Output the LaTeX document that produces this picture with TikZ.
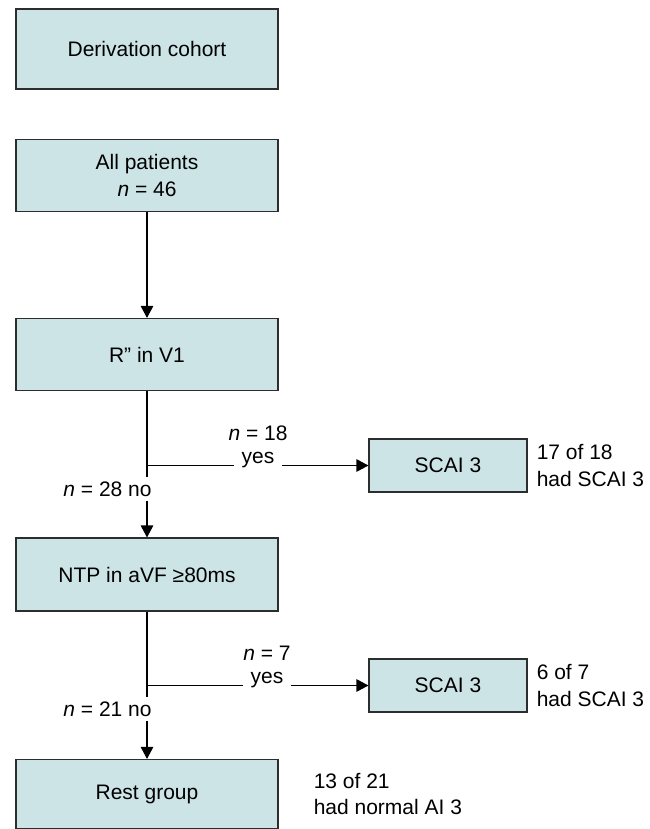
\documentclass[tikz,border=0pt]{standalone}
\usepackage{fontspec}
\setmainfont{Liberation Sans}
\usepackage{tikz}
\usetikzlibrary{arrows.meta}
\definecolor{boxfill}{RGB}{205,228,231}
\definecolor{boxline}{RGB}{45,45,45}
\tikzstyle{stage} = [rectangle, minimum width=262pt, minimum height=72pt, text centered, align=center, draw=boxline, line width=1.1pt, fill=boxfill]
\tikzstyle{outcome} = [rectangle, minimum width=158pt, minimum height=53pt, text centered, draw=boxline, line width=1.1pt, fill=boxfill]
\tikzstyle{note} = [anchor=west, align=left, inner sep=0pt]
\tikzstyle{branch} = [fill=white, inner xsep=8pt, inner ysep=3pt]
\tikzstyle{nolabel} = [fill=white, inner xsep=1pt, inner ysep=5pt]
\tikzstyle{arrow} = [line width=1.1pt, -{Triangle[length=12pt, width=12.5pt]}]

\begin{document}
\begin{tikzpicture}[x=1pt, y=-1pt, every node/.style={font=\fontsize{21}{26.5}\selectfont}]
	\useasboundingbox (0,0) rectangle (649,829);

	\node[stage, minimum height=80pt](cohort) at (147,49){Derivation cohort};
	\node[stage](all) at (147,175.5){All patients\\\textit{n} = 46};
	\node[stage](rv1) at (147,354.5){R” in V1};
	\node[stage, minimum height=73pt](ntp) at (147,574.5){NTP in aVF ≥80ms};
	\node[stage, minimum height=69pt](rest) at (147,794){Rest group};
	\node[outcome](scai1) at (448,465.5){SCAI 3};
	\node[outcome](scai2) at (448,685.5){SCAI 3};

	\coordinate (fork1) at (rv1.south |- scai1.west);
	\coordinate (fork2) at (ntp.south |- scai2.west);

	\draw[arrow] (all) -- (rv1);
	\draw[arrow] (rv1) -- (ntp);
	\draw[arrow] (ntp) -- (rest);
	\draw[arrow] (fork1) -- (scai1);
	\draw[arrow] (fork2) -- (scai2);

	% branch labels
	\node(n18) at (258,433){\textit{n} = 18};
	\node[branch](yes1) at (258,460){yes};
	\node[nolabel](no1) at (107.5,489){\textit{n} = 28 no};
	\node(n7) at (267,653){\textit{n} = 7};
	\node[branch](yes2) at (267,680){yes};
	\node[nolabel](no2) at (107.5,709){\textit{n} = 21 no};

	% outcomes beside the boxes
	\node[note](out1) at ([xshift=9pt]scai1.east){17 of 18\\had SCAI 3};
	\node[note](out2) at ([xshift=9pt]scai2.east){6 of 7\\had SCAI 3};
	\node[note](out3) at ([xshift=35pt]rest.east){13 of 21\\had normal AI 3};
\end{tikzpicture}
\end{document}
